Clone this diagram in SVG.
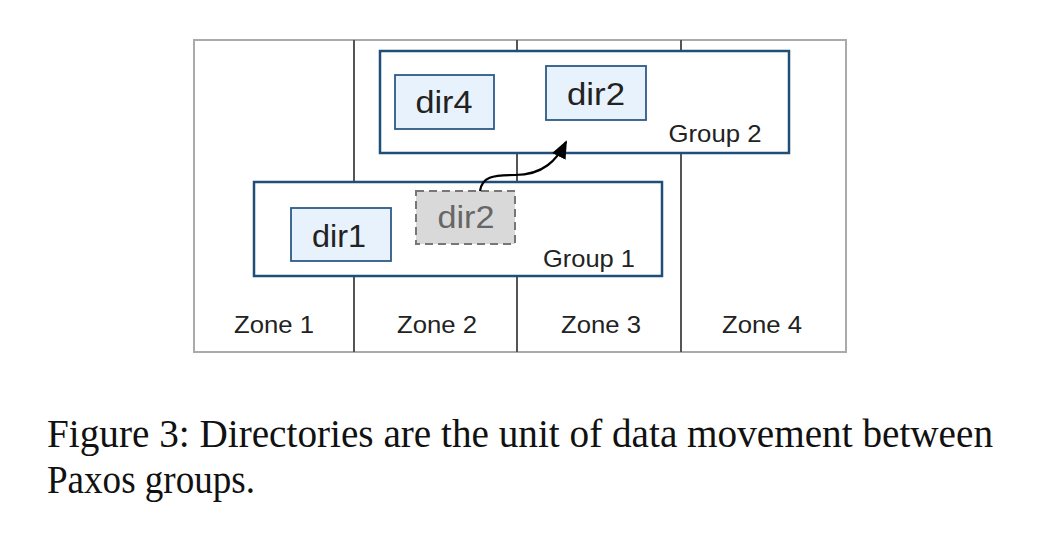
<svg xmlns="http://www.w3.org/2000/svg" width="1046" height="538" viewBox="0 0 1046 538">
<defs>
<style>
.frame{fill:#fff;stroke:#aaa;stroke-width:2}
.div{stroke:#555;stroke-width:2}
.grp{fill:#fff;stroke:#1f4e79;stroke-width:2.5}
.dir{fill:#e8f2fc;stroke:#2e5a87;stroke-width:1.8}
.ghost{fill:#d9d9d9;stroke:#777;stroke-width:2;stroke-dasharray:8,5}
.lbl{font-family:"Liberation Sans",Arial,sans-serif;fill:#222}
.cap{font-family:"Liberation Serif","Times New Roman",serif;font-size:41px;fill:#111}
</style>
<marker id="ah" markerUnits="userSpaceOnUse" markerWidth="18" markerHeight="18" viewBox="0 0 18 18" refX="16" refY="9" orient="auto">
<path d="M0,1.5 L18,9 L0,16.5 Z" fill="#000"/>
</marker>
</defs>
<rect width="1046" height="538" fill="#fff"/>
<g id="zones">
<rect class="frame" x="194" y="40" width="652" height="312"/>
<line class="div" x1="354" y1="40" x2="354" y2="352"/>
<line class="div" x1="517" y1="40" x2="517" y2="352"/>
<line class="div" x1="681" y1="40" x2="681" y2="352"/>
<text class="lbl" font-size="24" x="274" y="333" text-anchor="middle" textLength="80" lengthAdjust="spacingAndGlyphs">Zone 1</text>
<text class="lbl" font-size="24" x="437" y="333" text-anchor="middle" textLength="80" lengthAdjust="spacingAndGlyphs">Zone 2</text>
<text class="lbl" font-size="24" x="601" y="333" text-anchor="middle" textLength="80" lengthAdjust="spacingAndGlyphs">Zone 3</text>
<text class="lbl" font-size="24" x="762" y="333" text-anchor="middle" textLength="80" lengthAdjust="spacingAndGlyphs">Zone 4</text>
</g>
<g id="group2">
<rect class="grp" x="380" y="51" width="409" height="102"/>
<text class="lbl" font-size="24" x="715" y="142" text-anchor="middle" textLength="93" lengthAdjust="spacingAndGlyphs">Group 2</text>
</g>
<g id="group1">
<rect class="grp" x="254" y="182" width="408" height="94"/>
<text class="lbl" font-size="24" x="589" y="267" text-anchor="middle" textLength="92" lengthAdjust="spacingAndGlyphs">Group 1</text>
</g>
<g id="dir4">
<rect class="dir" x="395" y="75" width="99" height="54"/>
<text class="lbl" font-size="31" x="444" y="113" text-anchor="middle" textLength="57" lengthAdjust="spacingAndGlyphs">dir4</text>
</g>
<g id="dir2-new">
<rect class="dir" x="546" y="66" width="100" height="54"/>
<text class="lbl" font-size="31" x="596" y="105" text-anchor="middle" textLength="58" lengthAdjust="spacingAndGlyphs">dir2</text>
</g>
<g id="dir1">
<rect class="dir" x="291" y="208" width="100" height="53"/>
<text class="lbl" font-size="31" x="339" y="247" text-anchor="middle" textLength="54" lengthAdjust="spacingAndGlyphs">dir1</text>
</g>
<g id="dir2-old">
<rect class="ghost" x="416" y="191" width="99" height="53"/>
<text class="lbl" font-size="31" x="466" y="228" text-anchor="middle" textLength="57" lengthAdjust="spacingAndGlyphs" style="fill:#666">dir2</text>
</g>
<g id="connectors">
<path d="M480,191 C482,177 492,175 515,175 C543,175 557,160 566,142" fill="none" stroke="#000" stroke-width="2.2" marker-end="url(#ah)"/>
</g>
<g id="caption">
<text class="cap" x="47" y="447" textLength="946" lengthAdjust="spacingAndGlyphs">Figure 3: Directories are the unit of data movement between</text>
<text class="cap" x="47" y="493" textLength="208" lengthAdjust="spacingAndGlyphs">Paxos groups.</text>
</g>
</svg>
